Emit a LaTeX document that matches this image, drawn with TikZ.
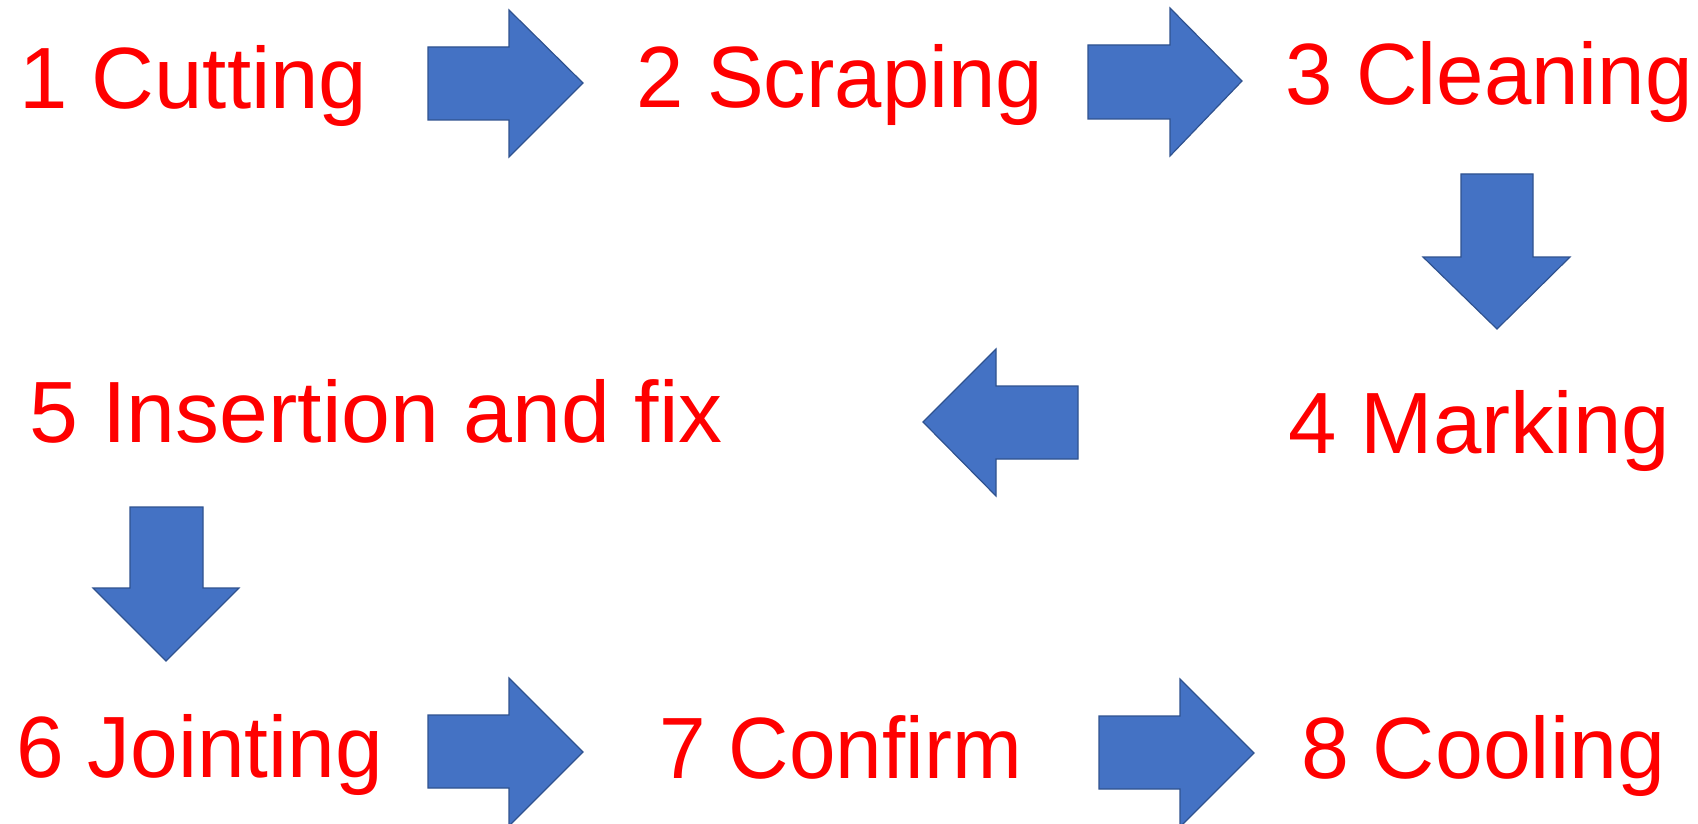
\documentclass[tikz,border=0pt]{standalone}
\usepackage{fontspec}
\setmainfont{Liberation Sans}
\definecolor{blk}{HTML}{4472C4}
\definecolor{blkline}{HTML}{2F528F}
\newcommand\squeezetext[2]{\scalebox{#1}[1]{#2}}
\begin{document}
\begin{tikzpicture}[x=1pt,y=-1pt,
  steplabel/.style={anchor=base west,inner sep=0pt,text=red,font=\fontsize{87}{90}\selectfont},
  blockarrow/.style={fill=blk,draw=blkline,line width=1.2pt,line join=miter}]
\useasboundingbox (0,0) rectangle (1698,824);
\node[steplabel] (s1) at (19,109) {\squeezetext{1.0}{1 Cutting}};
\node[steplabel] (s2) at (636,108) {\squeezetext{0.978}{2 Scraping}};
\node[steplabel] (s3) at (1285,105) {\squeezetext{0.98}{3 Cleaning}};
\node[steplabel] (s4) at (1288,453) {\squeezetext{1.0}{4 Marking}};
\node[steplabel] (s5) at (29,442) {\squeezetext{1.01}{5 Insertion and fix}};
\node[steplabel] (s6) at (16,777) {\squeezetext{0.985}{6 Jointing}};
\node[steplabel] (s7) at (659,778) {\squeezetext{0.962}{7 Confirm}};
\node[steplabel] (s8) at (1301,778) {\squeezetext{0.99}{8 Cooling}};
% block arrows
\draw[blockarrow] (428,47)--(509,47)--(509,10)--(583,83)--(509,157)--(509,120)--(428,120)--cycle;
\draw[blockarrow] (1088,45)--(1170,45)--(1170,8)--(1242,81)--(1170,156)--(1170,119)--(1088,119)--cycle;
\draw[blockarrow] (1461,174)--(1533,174)--(1533,257)--(1570,257)--(1497,329)--(1423,257)--(1461,257)--cycle;
\draw[blockarrow] (1078,386)--(996,386)--(996,349)--(923,422)--(996,496)--(996,459)--(1078,459)--cycle;
\draw[blockarrow] (130,507)--(203,507)--(203,588)--(239,588)--(166,661)--(93,588)--(130,588)--cycle;
\draw[blockarrow] (428,715)--(509,715)--(509,678)--(583,752)--(509,826)--(509,788)--(428,788)--cycle;
\draw[blockarrow] (1099,716)--(1180,716)--(1180,679)--(1254,753)--(1180,827)--(1180,789)--(1099,789)--cycle;
\end{tikzpicture}
\end{document}
